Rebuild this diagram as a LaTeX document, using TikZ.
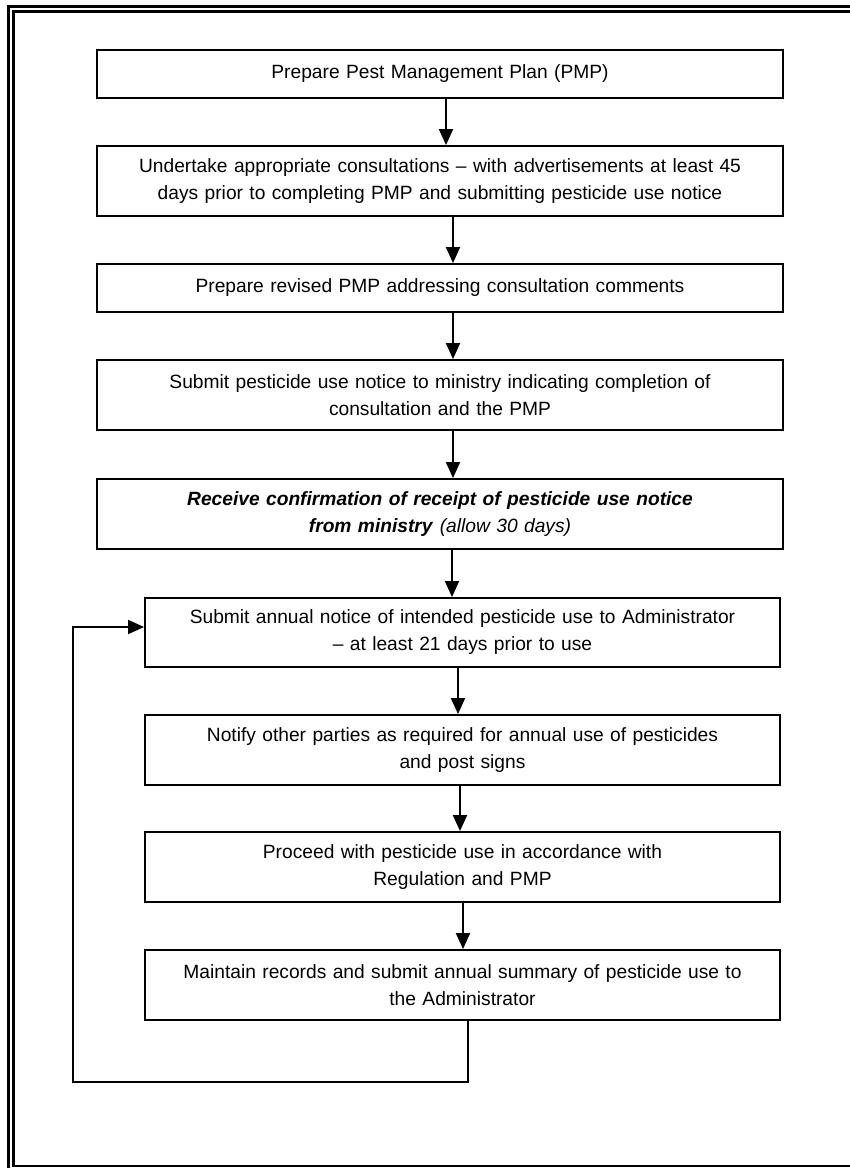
\documentclass[tikz,border=0pt]{standalone}
\usepackage{fontspec}
\setmainfont{Liberation Sans}
\usetikzlibrary{arrows.meta}

\begin{document}
\begin{tikzpicture}[x=1pt,y=-1pt,
  stepbox/.style={draw,line width=1.9pt,inner sep=0pt,align=center,
    font=\fontsize{19.2}{27}\selectfont},
  wide/.style={stepbox,minimum width=686pt,text width=676pt},
  narrow/.style={stepbox,minimum width=635pt,text width=630pt},
  flow/.style={line width=1.9pt,-{Triangle[length=16pt,width=14pt]}}]
\useasboundingbox (0,0) rectangle (850,1168);

% double frame, cut at right and bottom
\draw [line width=3pt] (8.5,6) rectangle (880,1174);
\draw [line width=2.2pt] (13.5,11.5) rectangle (875,1166);

\node[wide,minimum height=48pt] (prep) at (440,74) {Prepare Pest Management Plan (PMP)};
\node[wide,minimum height=70pt] (consult) at (440,181) {Undertake appropriate consultations -- with advertisements at least 45\\days prior to completing PMP and submitting pesticide use notice};
\node[wide,minimum height=48pt] (revise) at (440,288) {Prepare revised PMP addressing consultation comments};
\node[wide,minimum height=70pt] (notice) at (440,395) {Submit pesticide use notice to ministry indicating completion of\\consultation and the PMP};
\node[wide,minimum height=70pt] (receipt) at (440,514) {\textbf{\textit{Receive confirmation of receipt of pesticide use notice}}\\\textbf{\textit{from ministry}} \textit{(allow 30 days)}};
\node[narrow,minimum height=69pt] (annual) at (462.5,632.5) {Submit annual notice of intended pesticide use to Administrator\\-- at least 21 days prior to use};
\node[narrow,minimum height=70pt] (notify) at (462.5,750) {Notify other parties as required for annual use of pesticides\\and post signs};
\node[narrow,minimum height=70pt] (proceed) at (462.5,867) {Proceed with pesticide use in accordance with\\Regulation and PMP};
\node[narrow,minimum height=70pt] (records) at (462.5,985) {Maintain records and submit annual summary of pesticide use to\\the Administrator};

\draw [flow] ([xshift=6pt]prep.south) -- ([xshift=6pt]consult.north);
\draw [flow] ([xshift=13pt]consult.south) -- ([xshift=13pt]revise.north);
\draw [flow] ([xshift=13pt]revise.south) -- ([xshift=13pt]notice.north);
\draw [flow] ([xshift=13pt]notice.south) -- ([xshift=13pt]receipt.north);
\draw [flow] ([xshift=12pt]receipt.south) -- ([xshift=-10.5pt]annual.north);
\draw [flow] ([xshift=-4.5pt]annual.south) -- ([xshift=-4.5pt]notify.north);
\draw [flow] ([xshift=-2.5pt]notify.south) -- ([xshift=-2.5pt]proceed.north);
\draw [flow] ([xshift=0.5pt]proceed.south) -- ([xshift=0.5pt]records.north);

% loop back to the annual notice
\coordinate (back) at (73,1082);
\draw [flow] ([xshift=5.5pt]records.south) |- (back) |- ([yshift=5.5pt]annual.west);
\end{tikzpicture}
\end{document}
